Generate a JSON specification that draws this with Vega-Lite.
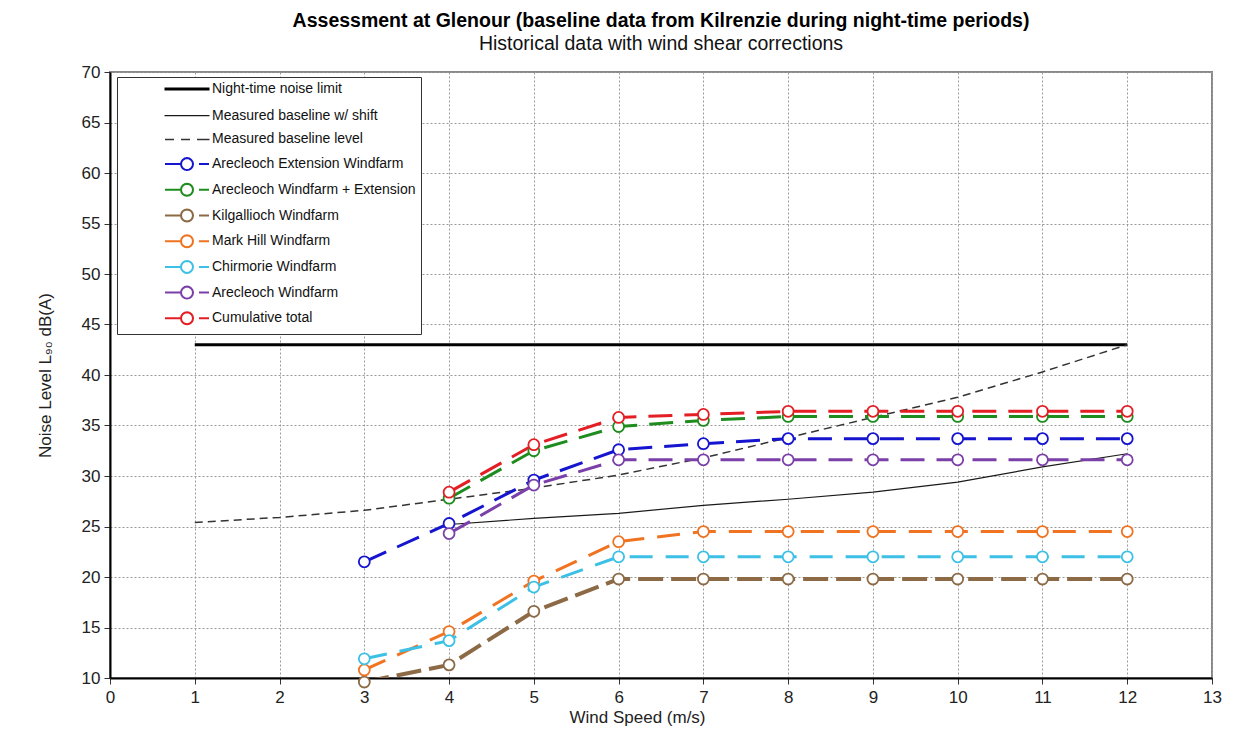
{
  "$schema": "https://vega.github.io/schema/vega-lite/v6.json",
  "width": 1102,
  "height": 606,
  "autosize": {"type": "none"},
  "padding": {"left": 110, "top": 72, "right": 38, "bottom": 56},
  "background": "white",
  "title": {
    "text": "Assessment at Glenour (baseline data from Kilrenzie during night-time periods)",
    "subtitle": "Historical data with wind shear corrections",
    "anchor": "middle",
    "font": "Liberation Sans",
    "fontSize": 19.5,
    "fontWeight": "bold",
    "color": "#000",
    "subtitleFont": "Liberation Sans",
    "subtitleFontSize": 19.5,
    "subtitleColor": "#111",
    "subtitlePadding": 3,
    "offset": 9
  },
  "data": {
    "values": [
      {"series": "Night-time noise limit", "ws": 1, "db": 43},
      {"series": "Night-time noise limit", "ws": 2, "db": 43},
      {"series": "Night-time noise limit", "ws": 3, "db": 43},
      {"series": "Night-time noise limit", "ws": 4, "db": 43},
      {"series": "Night-time noise limit", "ws": 5, "db": 43},
      {"series": "Night-time noise limit", "ws": 6, "db": 43},
      {"series": "Night-time noise limit", "ws": 7, "db": 43},
      {"series": "Night-time noise limit", "ws": 8, "db": 43},
      {"series": "Night-time noise limit", "ws": 9, "db": 43},
      {"series": "Night-time noise limit", "ws": 10, "db": 43},
      {"series": "Night-time noise limit", "ws": 11, "db": 43},
      {"series": "Night-time noise limit", "ws": 12, "db": 43},
      {"series": "Measured baseline w/ shift", "ws": 4, "db": 25.2},
      {"series": "Measured baseline w/ shift", "ws": 5, "db": 25.8},
      {"series": "Measured baseline w/ shift", "ws": 6, "db": 26.3},
      {"series": "Measured baseline w/ shift", "ws": 7, "db": 27.1},
      {"series": "Measured baseline w/ shift", "ws": 8, "db": 27.7},
      {"series": "Measured baseline w/ shift", "ws": 9, "db": 28.4},
      {"series": "Measured baseline w/ shift", "ws": 10, "db": 29.4},
      {"series": "Measured baseline w/ shift", "ws": 11, "db": 30.9},
      {"series": "Measured baseline w/ shift", "ws": 12, "db": 32.2},
      {"series": "Measured baseline level", "ws": 1, "db": 25.4},
      {"series": "Measured baseline level", "ws": 2, "db": 25.9},
      {"series": "Measured baseline level", "ws": 3, "db": 26.6},
      {"series": "Measured baseline level", "ws": 4, "db": 27.7},
      {"series": "Measured baseline level", "ws": 5, "db": 28.8},
      {"series": "Measured baseline level", "ws": 6, "db": 30.1},
      {"series": "Measured baseline level", "ws": 7, "db": 31.8},
      {"series": "Measured baseline level", "ws": 8, "db": 33.8},
      {"series": "Measured baseline level", "ws": 9, "db": 35.8},
      {"series": "Measured baseline level", "ws": 10, "db": 37.8},
      {"series": "Measured baseline level", "ws": 11, "db": 40.3},
      {"series": "Measured baseline level", "ws": 12, "db": 43.0},
      {"series": "Arecleoch Extension Windfarm", "ws": 3, "db": 21.5},
      {"series": "Arecleoch Extension Windfarm", "ws": 4, "db": 25.3},
      {"series": "Arecleoch Extension Windfarm", "ws": 5, "db": 29.6},
      {"series": "Arecleoch Extension Windfarm", "ws": 6, "db": 32.6},
      {"series": "Arecleoch Extension Windfarm", "ws": 7, "db": 33.2},
      {"series": "Arecleoch Extension Windfarm", "ws": 8, "db": 33.7},
      {"series": "Arecleoch Extension Windfarm", "ws": 9, "db": 33.7},
      {"series": "Arecleoch Extension Windfarm", "ws": 10, "db": 33.7},
      {"series": "Arecleoch Extension Windfarm", "ws": 11, "db": 33.7},
      {"series": "Arecleoch Extension Windfarm", "ws": 12, "db": 33.7},
      {"series": "Arecleoch Windfarm + Extension", "ws": 4, "db": 27.8},
      {"series": "Arecleoch Windfarm + Extension", "ws": 5, "db": 32.5},
      {"series": "Arecleoch Windfarm + Extension", "ws": 6, "db": 34.9},
      {"series": "Arecleoch Windfarm + Extension", "ws": 7, "db": 35.5},
      {"series": "Arecleoch Windfarm + Extension", "ws": 8, "db": 35.9},
      {"series": "Arecleoch Windfarm + Extension", "ws": 9, "db": 35.9},
      {"series": "Arecleoch Windfarm + Extension", "ws": 10, "db": 35.9},
      {"series": "Arecleoch Windfarm + Extension", "ws": 11, "db": 35.9},
      {"series": "Arecleoch Windfarm + Extension", "ws": 12, "db": 35.9},
      {"series": "Kilgallioch Windfarm", "ws": 3, "db": 9.6},
      {"series": "Kilgallioch Windfarm", "ws": 4, "db": 11.3},
      {"series": "Kilgallioch Windfarm", "ws": 5, "db": 16.6},
      {"series": "Kilgallioch Windfarm", "ws": 6, "db": 19.8},
      {"series": "Kilgallioch Windfarm", "ws": 7, "db": 19.8},
      {"series": "Kilgallioch Windfarm", "ws": 8, "db": 19.8},
      {"series": "Kilgallioch Windfarm", "ws": 9, "db": 19.8},
      {"series": "Kilgallioch Windfarm", "ws": 10, "db": 19.8},
      {"series": "Kilgallioch Windfarm", "ws": 11, "db": 19.8},
      {"series": "Kilgallioch Windfarm", "ws": 12, "db": 19.8},
      {"series": "Mark Hill Windfarm", "ws": 3, "db": 10.8},
      {"series": "Mark Hill Windfarm", "ws": 4, "db": 14.6},
      {"series": "Mark Hill Windfarm", "ws": 5, "db": 19.6},
      {"series": "Mark Hill Windfarm", "ws": 6, "db": 23.5},
      {"series": "Mark Hill Windfarm", "ws": 7, "db": 24.5},
      {"series": "Mark Hill Windfarm", "ws": 8, "db": 24.5},
      {"series": "Mark Hill Windfarm", "ws": 9, "db": 24.5},
      {"series": "Mark Hill Windfarm", "ws": 10, "db": 24.5},
      {"series": "Mark Hill Windfarm", "ws": 11, "db": 24.5},
      {"series": "Mark Hill Windfarm", "ws": 12, "db": 24.5},
      {"series": "Chirmorie Windfarm", "ws": 3, "db": 11.9},
      {"series": "Chirmorie Windfarm", "ws": 4, "db": 13.7},
      {"series": "Chirmorie Windfarm", "ws": 5, "db": 19.0},
      {"series": "Chirmorie Windfarm", "ws": 6, "db": 22.0},
      {"series": "Chirmorie Windfarm", "ws": 7, "db": 22.0},
      {"series": "Chirmorie Windfarm", "ws": 8, "db": 22.0},
      {"series": "Chirmorie Windfarm", "ws": 9, "db": 22.0},
      {"series": "Chirmorie Windfarm", "ws": 10, "db": 22.0},
      {"series": "Chirmorie Windfarm", "ws": 11, "db": 22.0},
      {"series": "Chirmorie Windfarm", "ws": 12, "db": 22.0},
      {"series": "Arecleoch Windfarm", "ws": 4, "db": 24.3},
      {"series": "Arecleoch Windfarm", "ws": 5, "db": 29.1},
      {"series": "Arecleoch Windfarm", "ws": 6, "db": 31.6},
      {"series": "Arecleoch Windfarm", "ws": 7, "db": 31.6},
      {"series": "Arecleoch Windfarm", "ws": 8, "db": 31.6},
      {"series": "Arecleoch Windfarm", "ws": 9, "db": 31.6},
      {"series": "Arecleoch Windfarm", "ws": 10, "db": 31.6},
      {"series": "Arecleoch Windfarm", "ws": 11, "db": 31.6},
      {"series": "Arecleoch Windfarm", "ws": 12, "db": 31.6},
      {"series": "Cumulative total", "ws": 4, "db": 28.4},
      {"series": "Cumulative total", "ws": 5, "db": 33.1},
      {"series": "Cumulative total", "ws": 6, "db": 35.8},
      {"series": "Cumulative total", "ws": 7, "db": 36.1},
      {"series": "Cumulative total", "ws": 8, "db": 36.4},
      {"series": "Cumulative total", "ws": 9, "db": 36.4},
      {"series": "Cumulative total", "ws": 10, "db": 36.4},
      {"series": "Cumulative total", "ws": 11, "db": 36.4},
      {"series": "Cumulative total", "ws": 12, "db": 36.4}
    ]
  },
  "encoding": {
    "x": {
      "field": "ws",
      "type": "quantitative",
      "scale": {"domain": [0, 13], "nice": false, "zero": false},
      "title": "Wind Speed (m/s)",
      "axis": {"values": [0, 1, 2, 3, 4, 5, 6, 7, 8, 9, 10, 11, 12, 13], "labelFlush": false, "titleX": 527}
    },
    "y": {
      "field": "db",
      "type": "quantitative",
      "scale": {"domain": [10, 70], "nice": false, "zero": false},
      "title": "Noise Level L₉₀ dB(A)",
      "axis": {"values": [10, 15, 20, 25, 30, 35, 40, 45, 50, 55, 60, 65, 70]}
    },
    "color": {
      "field": "series",
      "type": "nominal",
      "scale": {
        "domain": ["Night-time noise limit", "Measured baseline w/ shift", "Measured baseline level", "Arecleoch Extension Windfarm", "Arecleoch Windfarm + Extension", "Kilgallioch Windfarm", "Mark Hill Windfarm", "Chirmorie Windfarm", "Arecleoch Windfarm", "Cumulative total"],
        "range": ["#000000", "#1a1a1a", "#333333", "#1515D0", "#1E8C1E", "#8C6A46", "#F07322", "#3CC0E6", "#7A3FA8", "#E31E24"]
      },
      "legend": {
        "title": null,
        "orient": "none",
        "legendX": 7,
        "legendY": 5,
        "symbolSize": 100,
        "symbolType": "M-4.5,0L4.5,0",
        "symbolStrokeWidth": 2,
        "symbolFillColor": "white",
        "labelFont": "Liberation Sans",
        "labelFontSize": 14,
        "labelColor": "#111",
        "labelLimit": 400,
        "padding": 5,
        "rowPadding": 5.7,
        "symbolOffset": 58,
        "labelOffset": 18,
        "strokeColor": "#333",
        "fillColor": "white",
        "encode": {
          "symbols": {
            "update": {
              "shape": {"signal": "datum.value === 'Night-time noise limit' || datum.value === 'Measured baseline w/ shift' ? 'M0,-1.2L0,-1.2M0,1.2L0,1.2M-4.5,0L4.5,0' : datum.value === 'Measured baseline level' ? 'M0,-1.2L0,-1.2M0,1.2L0,1.2M-4.4,0L-2.6,0M-1.2,0L0.6,0M2,0L4.5,0' : 'M-4.4,0L-1.2,0M2.4,0L4.4,0M1.2,0L1.109,0.459L0.849,0.849L0.459,1.109L0,1.2L-0.459,1.109L-0.849,0.849L-1.109,0.459L-1.2,0L-1.109,-0.459L-0.849,-0.849L-0.459,-1.109L0,-1.2L0.459,-1.109L0.849,-0.849L1.109,-0.459Z'"},
              "strokeWidth": {"signal": "datum.value === 'Night-time noise limit' ? 3 : datum.value === 'Measured baseline w/ shift' ? 1.2 : datum.value === 'Measured baseline level' ? 1.5 : 2"},
              "strokeDash": {"value": []},
              "fill": {"value": "white"},
              "opacity": {"value": 1}
            }
          }
        }
      }
    }
  },
  "layer": [
    {
      "transform": [{"filter": {"field": "series", "equal": "Night-time noise limit"}}],
      "mark": {"type": "line", "clip": true, "strokeWidth": 3}
    },
    {
      "transform": [{"filter": {"field": "series", "equal": "Measured baseline w/ shift"}}],
      "mark": {"type": "line", "clip": true, "strokeWidth": 1.2}
    },
    {
      "transform": [{"filter": {"field": "series", "equal": "Measured baseline level"}}],
      "mark": {"type": "line", "clip": true, "strokeWidth": 1.5, "strokeDash": [8, 5]}
    },
    {
      "transform": [{"filter": {"field": "series", "equal": "Kilgallioch Windfarm"}}],
      "mark": {"type": "line", "clip": true, "strokeWidth": 4, "strokeDash": [25, 8]}
    },
    {
      "transform": [{"filter": {"field": "series", "oneOf": ["Mark Hill Windfarm", "Chirmorie Windfarm"]}}],
      "mark": {"type": "line", "clip": true, "strokeWidth": 3, "strokeDash": [23, 13]}
    },
    {
      "transform": [{"filter": {"field": "series", "oneOf": ["Arecleoch Windfarm", "Arecleoch Extension Windfarm", "Arecleoch Windfarm + Extension", "Cumulative total"]}}],
      "mark": {"type": "line", "clip": true, "strokeWidth": 3, "strokeDash": [24, 12]}
    },
    {
      "transform": [
        {"filter": {"field": "series", "oneOf": ["Arecleoch Extension Windfarm", "Arecleoch Windfarm + Extension", "Kilgallioch Windfarm", "Mark Hill Windfarm", "Chirmorie Windfarm", "Arecleoch Windfarm", "Cumulative total"]}}
      ],
      "mark": {"type": "point", "shape": "circle", "filled": false, "fill": "white", "fillOpacity": 1, "opacity": 1, "size": 120, "strokeWidth": 1.8}
    }
  ],
  "config": {
    "font": "Liberation Sans",
    "view": {"stroke": "#888", "strokeWidth": 2},
    "axis": {
      "labelFont": "Liberation Sans",
      "labelFontSize": 17,
      "labelColor": "#222",
      "titleFont": "Liberation Sans",
      "titleFontSize": 17,
      "titleFontWeight": "normal",
      "titleColor": "#222",
      "domainColor": "#000",
      "domainWidth": 2,
      "tickColor": "#333",
      "tickSize": 6,
      "tickWidth": 1,
      "gridColor": "#999",
      "gridDash": [2, 2],
      "gridWidth": 1,
      "gridOpacity": 1,
      "labelOverlap": false
    },
    "axisX": {"labelPadding": 5, "titlePadding": 4},
    "axisY": {"labelPadding": 4, "titlePadding": 27}
  }
}
